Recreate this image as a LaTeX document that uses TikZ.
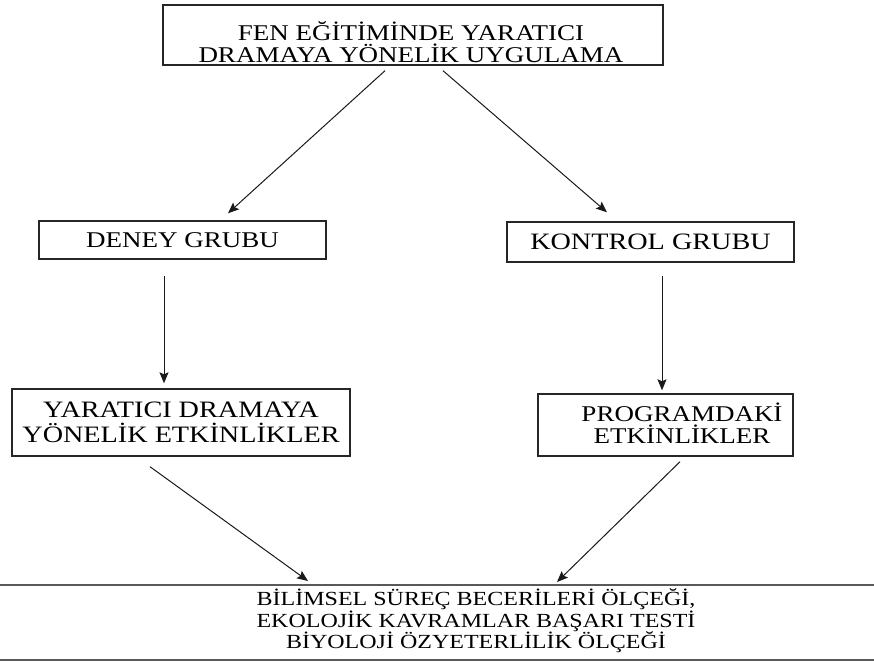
\documentclass[tikz,border=0pt]{standalone}
\usepackage{fontspec}
\newfontfamily\dfont{Liberation Serif}[FakeStretch=1.2]
\usetikzlibrary{arrows.meta,calc}
\begin{document}
\begin{tikzpicture}[x=1pt,y=-1pt,
  boxframe/.style={draw=black!85,line width=1.4pt,inner sep=0pt,align=center},
  txt/.style={inner sep=0pt,align=center},
  fa/.style={font=\dfont\fontsize{22.5}{22}\selectfont},
  fb/.style={font=\dfont\fontsize{23.5}{25}\selectfont},
  fc/.style={font=\dfont\fontsize{20}{21.5}\selectfont},
  arr/.style={draw=black!90,line width=1pt,-{Stealth[length=11pt,width=9pt,inset=2pt]}}]
\useasboundingbox (0,0) rectangle (874,663);
% boxes
\node[boxframe,minimum width=500pt,minimum height=60pt] (top) at (413,35) {};
\node[txt,fa] (toptext) at (411,42) {FEN EĞİTİMİNDE YARATICI\\DRAMAYA YÖNELİK UYGULAMA};
\node[boxframe,fa,minimum width=287pt,minimum height=38pt] (deney) at (182.5,240) {DENEY GRUBU};
\node[boxframe,fb,minimum width=287pt,minimum height=40pt] (kontrol) at (650.5,242) {KONTROL GRUBU};
\node[boxframe,fb,minimum width=338pt,minimum height=67pt] (yaratici) at (181,422.5) {YARATICI DRAMAYA\\YÖNELİK ETKİNLİKLER};
\node[boxframe,minimum width=255pt,minimum height=62pt] (program) at (665.5,425) {};
\node[txt,fa] (programtext) at (682,423) {PROGRAMDAKİ\\ETKİNLİKLER};
\node[boxframe,draw=black!65,line width=2pt,minimum width=900pt,minimum height=75pt] (bottom) at (437,622.5) {};
\node[txt,fc] (bottomtext) at (476,621) {BİLİMSEL SÜREÇ BECERİLERİ ÖLÇEĞİ,\\EKOLOJİK KAVRAMLAR BAŞARI TESTİ\\BİYOLOJİ ÖZYETERLİLİK ÖLÇEĞİ};
% connectors
\draw[arr] ($(top.south)+(-28,5)$) -- ($(deney.north)+(45.5,-7)$);
\draw[arr] ($(top.south)+(30,5)$) -- ($(kontrol.north)+(-43.5,-9)$);
\draw[arr] ($(deney.south)+(-18.5,16)$) -- ($(yaratici.north)+(-17,-5)$);
\draw[arr] ($(kontrol.south)+(11.5,13)$) -- ($(program.north)+(-3.5,-3)$);
\draw[arr] ($(yaratici.south)+(-31,10)$) -- ($(bottom.north)+(-129,-3)$);
\draw[arr] ($(program.south)+(14.5,5)$) -- ($(bottom.north)+(120,-2)$);
\end{tikzpicture}
\end{document}
